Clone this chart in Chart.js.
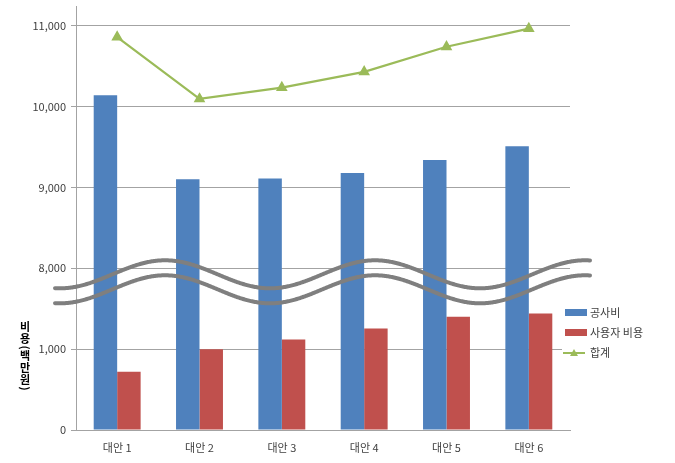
<!DOCTYPE html>
<html>
<head>
<meta charset="utf-8">
<script src="https://cdn.jsdelivr.net/npm/chart.js@4/dist/chart.umd.min.js"></script>
<style>
  body { margin: 0; background: #fff; }
  #wrap { width: 675px; height: 463px; }
</style>
</head>
<body>
<div id="wrap"><canvas id="chart" width="675" height="463"></canvas></div>
<script>
// data
const categories = ['대안 1', '대안 2', '대안 3', '대안 4', '대안 5', '대안 6'];
const seriesNames = ['공사비', '사용자 비용', '합계'];
const constructionCost = [10140, 9100, 9110, 9180, 9340, 9510];
const userCost = [720, 1000, 1120, 1255, 1400, 1440];
const totalCost = [10860, 10095, 10235, 10430, 10740, 10965];

// broken y axis: lower part runs 0~2,000 at 1,000 per step,
// the tick shown as 8,000 sits where 2,000 would be
const yTicks = [0, 1000, 8000, 9000, 10000, 11000];
const lowerTop = 2000;
const breakHigh = 8000;
const yMax = 11235;

const blue = '#4F81BD';
const red = '#C0504D';
const green = '#9BBB59';
const gridColor = '#a3a3a3';
const font = '"Noto Sans CJK KR", "Noto Sans", sans-serif';

// value -> axis "units" (each tick step is one unit)
function toUnit(v) {
  if (v <= lowerTop) return v / 1000;
  if (v < breakHigh) return lowerTop / 1000;
  return lowerTop / 1000 + (v - breakHigh) / 1000;
}
function fromUnit(u) {
  if (u <= lowerTop / 1000) return u * 1000;
  return breakHigh + (u - lowerTop / 1000) * 1000;
}

class BrokenScale extends Chart.LinearScale {
  static id = 'broken';
  static defaults = Chart.LinearScale.defaults;
  buildTicks() {
    return yTicks.map(v => ({ value: v }));
  }
  getPixelForValue(value) {
    if (value === null || value === undefined) return NaN;
    return this.getPixelForDecimal(toUnit(value) / toUnit(this.max));
  }
  getValueForPixel(pixel) {
    return fromUnit(this.getDecimalForPixel(pixel) * toUnit(this.max));
  }
}
Chart.register(BrokenScale);

// y title written top-to-bottom, one glyph under another, brackets turned
const yTitlePlugin = {
  id: 'yTitle',
  afterDraw(chart) {
    const ctx = chart.ctx;
    const glyphs = ['비', '용', '(', '백', '만', '원', ')'];
    let y = 321;
    ctx.save();
    ctx.fillStyle = '#000';
    ctx.font = 'bold 11px ' + font;
    ctx.textAlign = 'center';
    ctx.textBaseline = 'middle';
    glyphs.forEach(g => {
      if (g === '(' || g === ')') {
        const step = 5;
        ctx.save();
        ctx.translate(25, y + step / 2);
        ctx.rotate(Math.PI / 2);
        ctx.fillText(g, 0, 0);
        ctx.restore();
        y += step;
      } else {
        const step = 12;
        ctx.fillText(g, 25, y + step / 2);
        y += step;
      }
    });
    ctx.restore();
  }
};

// two wavy break marks over the bars
const breakMarkPlugin = {
  id: 'breakMark',
  afterDatasetsDraw(chart) {
    const ctx = chart.ctx;
    const area = chart.chartArea;
    const yBreak = chart.scales.y.getPixelForValue(breakHigh);
    const x0 = area.left - 21;
    const x1 = area.right + 20;
    const peakX = area.left + 89;
    const period = 210;
    const amp = 14;
    ctx.save();
    ctx.strokeStyle = '#7f7f7f';
    ctx.lineWidth = 4;
    ctx.lineCap = 'round';
    [yBreak + 6, yBreak + 21].forEach(cy => {
      ctx.beginPath();
      for (let x = x0; x <= x1; x++) {
        const y = cy - amp * Math.cos(2 * Math.PI * (x - peakX) / period);
        if (x === x0) ctx.moveTo(x, y); else ctx.lineTo(x, y);
      }
      ctx.stroke();
    });
    ctx.restore();
  }
};

// legend on the right, overlapping the plot edge like the original
const legendPlugin = {
  id: 'sideLegend',
  afterDraw(chart) {
    const ctx = chart.ctx;
    const area = chart.chartArea;
    const left = area.right - 5;
    const top = 313;
    ctx.save();
    ctx.fillStyle = '#fff';
    ctx.fillRect(left - 3, top - 12, 100, 64);
    ctx.font = '11px ' + font;
    ctx.textBaseline = 'middle';
    ctx.textAlign = 'left';
    chart.data.datasets.forEach((ds, i) => {
      const y = top + i * 20;
      if (ds.type === 'line') {
        ctx.strokeStyle = ds.borderColor;
        ctx.lineWidth = 2;
        ctx.beginPath();
        ctx.moveTo(left - 2, y);
        ctx.lineTo(left + 20, y);
        ctx.stroke();
        ctx.fillStyle = ds.borderColor;
        ctx.beginPath();
        ctx.moveTo(left + 9, y - 4);
        ctx.lineTo(left + 13, y + 3);
        ctx.lineTo(left + 5, y + 3);
        ctx.closePath();
        ctx.fill();
      } else {
        ctx.fillStyle = ds.backgroundColor;
        ctx.fillRect(left, y - 4, 22, 7);
      }
      ctx.fillStyle = '#404040';
      ctx.fillText(ds.label, left + 25, y);
    });
    ctx.restore();
  }
};

new Chart(document.getElementById('chart'), {
  data: {
    labels: categories,
    datasets: [
      {
        type: 'bar',
        label: seriesNames[0],
        data: constructionCost,
        backgroundColor: blue,
        order: 1,
        barPercentage: 1,
        categoryPercentage: 0.57
      },
      {
        type: 'bar',
        label: seriesNames[1],
        data: userCost,
        backgroundColor: red,
        order: 2,
        barPercentage: 1,
        categoryPercentage: 0.57
      },
      {
        type: 'line',
        label: seriesNames[2],
        data: totalCost,
        borderColor: green,
        backgroundColor: green,
        borderWidth: 2.25,
        pointStyle: 'triangle',
        pointRadius: 4.5,
        pointBackgroundColor: green,
        pointBorderColor: green,
        tension: 0,
        order: 0
      }
    ]
  },
  options: {
    responsive: false,
    animation: false,
    layout: { padding: { top: 2, right: 105, left: 0, bottom: 0 } },
    plugins: {
      legend: { display: false },
      tooltip: { enabled: false }
    },
    scales: {
      x: {
        grid: { display: false, drawTicks: false },
        border: { display: true, color: gridColor, width: 1 },
        ticks: {
          color: '#404040',
          font: { family: font, size: 11 },
          padding: 11
        },
        afterFit(scale) { scale.height = 33; }
      },
      y: {
        type: 'broken',
        min: 0,
        max: yMax,
        grid: { color: gridColor, tickLength: 5, drawTicks: true },
        border: { display: true, color: gridColor },
        ticks: {
          color: '#404040',
          font: { family: font, size: 11 },
          padding: 5,
          callback: v => v.toLocaleString('en-US')
        },
        afterFit(scale) {
          scale.width = 76;
          scale.paddingTop = 0;
          scale.paddingBottom = 0;
        }
      }
    }
  },
  plugins: [breakMarkPlugin, yTitlePlugin, legendPlugin]
});
</script>
</body>
</html>
